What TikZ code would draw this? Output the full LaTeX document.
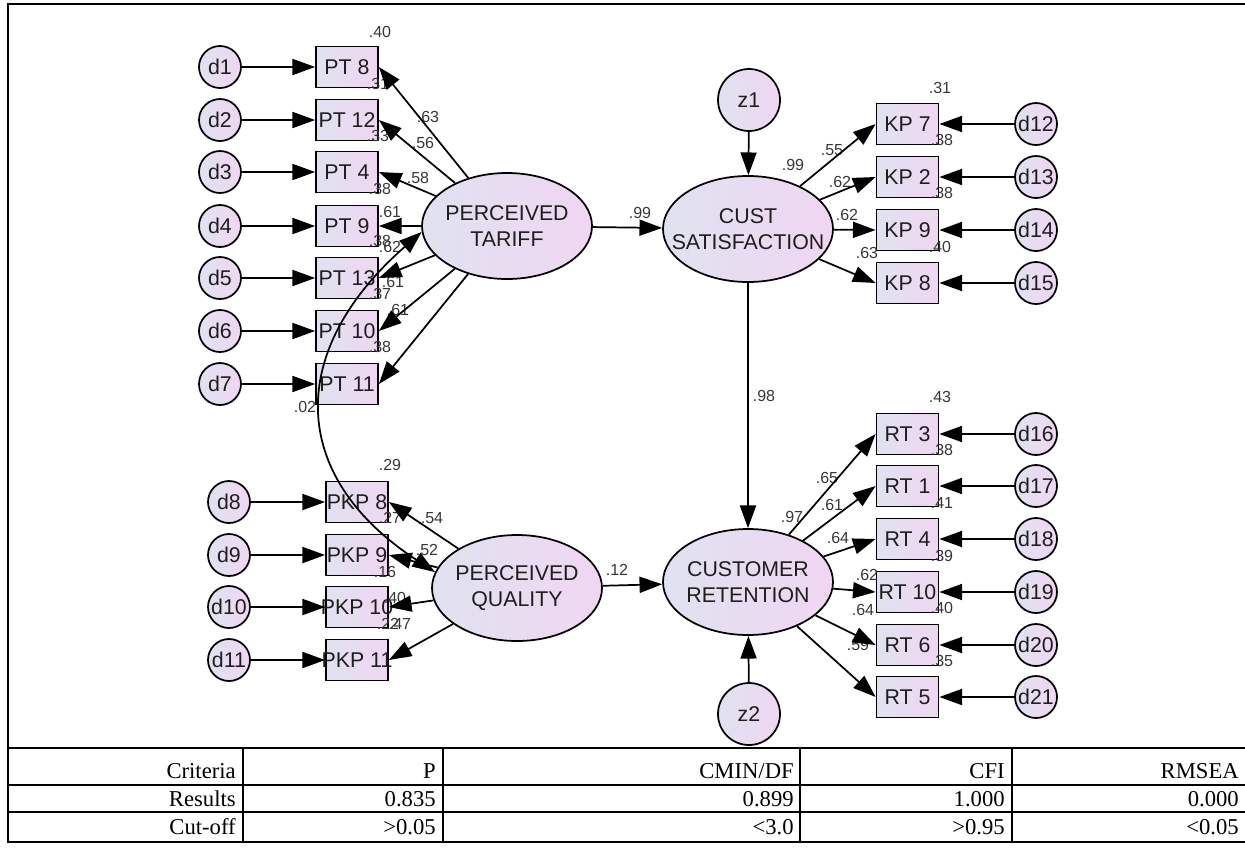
\documentclass[tikz,border=0pt]{standalone}
\usepackage{fontspec}
\setmainfont{Liberation Sans}
\newfontfamily\tabfont{Liberation Serif}
\usetikzlibrary{shapes.geometric,arrows.meta}
\definecolor{cL}{RGB}{224,226,240}
\definecolor{cR}{RGB}{240,214,242}
\definecolor{lblc}{RGB}{55,55,55}
\definecolor{txtc}{RGB}{30,30,30}
\newcommand\nfnt{\fontsize{16}{19}\selectfont}
\newcommand\lfnt{\fontsize{12}{13}\selectfont}
\newcommand\tfnt{\tabfont\fontsize{17}{19}\selectfont}
\begin{document}
\begin{tikzpicture}[x=0.75pt,y=-0.75pt,
  ln/.style={line width=1.3pt},
  arr/.style={line width=1.3pt,-{Triangle[length=17pt,width=12pt]}},
  obs/.style={draw,line width=1.3pt,minimum width=46.5pt,minimum height=30.75pt,inner sep=0pt,left color=cL,right color=cR},
  txt/.style={font=\nfnt,inner sep=0pt,text=txtc,align=center},
  err/.style={circle,draw,line width=1.3pt,minimum size=31.5pt,inner sep=0pt,left color=cL,right color=cR},
  dist/.style={circle,draw,line width=1.3pt,minimum size=46.5pt,inner sep=0pt,left color=cL,right color=cR},
  lat/.style={ellipse,draw,line width=1.3pt,minimum width=127.5pt,minimum height=79.5pt,inner sep=0pt,left color=cL,right color=cR},
  lbl/.style={font=\lfnt,inner sep=0pt,text=lblc},
  tcell/.style={font=\tfnt,inner sep=0pt,anchor=base east},
]
\useasboundingbox (0,0) rectangle (1245,847);
\fill[white] (0,0) rectangle (1245,847);

% latent variables
\node[lat] (PT) at (507,226) {};
\node[txt] at (PT) {PERCEIVED\\TARIFF};
\node[lat] (PQ) at (517,588) {};
\node[txt] at (PQ) {PERCEIVED\\QUALITY};
\node[lat] (CS) at (748,229) {};
\node[txt] at (CS) {CUST\\SATISFACTION};
\node[lat] (CR) at (748,582) {};
\node[txt] at (CR) {CUSTOMER\\RETENTION};
\node[dist] (z1) at (749,100) {};
\node[txt] at (z1) {z1};
\node[dist] (z2) at (749,714) {};
\node[txt] at (z2) {z2};

% PT indicators
\foreach \i/\n/\y in {1/8/67,2/12/120,3/4/172,4/9/226,5/13/278,6/10/331,7/11/384}{
  \node[err] (d\i) at (220,\y) {};
  \node[txt] at (d\i) {d\i};
  \node[obs] (pt\n) at (347,\y) {};
  \node[txt] at (pt\n) {PT \n};
}
% PKP indicators
\foreach \i/\n/\y in {8/8/502,9/9/555,10/10/607,11/11/660}{
  \node[err] (d\i) at (229,\y) {};
  \node[txt] at (d\i) {d\i};
  \node[obs] (pkp\n) at (357,\y) {};
  \node[txt] at (pkp\n) {PKP \n};
}
% KP indicators
\foreach \i/\n/\y in {12/7/124,13/2/177,14/9/230,15/8/283}{
  \node[err] (d\i) at (1036,\y) {};
  \node[txt] at (d\i) {d\i};
  \node[obs] (kp\n) at (907.5,\y) {};
  \node[txt] at (kp\n) {KP \n};
}
% RT indicators
\foreach \i/\n/\y in {16/3/434,17/1/486,18/4/539,19/10/592,20/6/645,21/5/697}{
  \node[err] (d\i) at (1036,\y) {};
  \node[txt] at (d\i) {d\i};
  \node[obs] (rt\n) at (907.5,\y) {};
  \node[txt] at (rt\n) {RT \n};
}

% labels (drawn before arrows)
\foreach \x/\y/\t [count=\k] in {380/32/.40,378/84/.31,378/136/.33,380/189/.38,380/241/.38,380/294/.37,380/347/.38,
  428/117/.63,423/143/.56,418/178/.58,390/212/.61,390/247/.62,393/282/.61,398/310/.61,305/407/.02}
  \node[lbl] (la\k) at (\x,\y) {\t};
\foreach \x/\y/\t [count=\k] in {390/465/.29,390/518/.27,385/572/.16,388/624/.22,
  432/518/.54,427/550/.52,395/598/.40,400/624/.47,617/570/.12,640/213/.99}
  \node[lbl] (lb\k) at (\x,\y) {\t};
\foreach \x/\y/\t [count=\k] in {793/165/.99,832/150/.55,840/182/.62,847/215/.62,867/253/.63,
  940/88/.31,942/140/.38,942/193/.38,940/247/.40,764/396/.98,792/517/.97}
  \node[lbl] (lc\k) at (\x,\y) {\t};
\foreach \x/\y/\t [count=\k] in {827/478/.65,832/505/.61,838/538/.64,867/575/.62,863/610/.64,858/645/.59,
  940/397/.43,942/450/.38,942/503/.41,942/556/.39,942/608/.40,942/661/.35}
  \node[lbl] (ld\k) at (\x,\y) {\t};

% error arrows
\foreach \i/\n in {1/8,2/12,3/4,4/9,5/13,6/10,7/11} \draw[arr] (d\i) -- (pt\n);
\foreach \i/\n in {8/8,9/9,10/10,11/11} \draw[arr] (d\i) -- (pkp\n);
\foreach \i/\n in {12/7,13/2,14/9,15/8} \draw[arr] (d\i) -- (kp\n);
\foreach \i/\n in {16/3,17/1,18/4,19/10,20/6,21/5} \draw[arr] (d\i) -- (rt\n);

% loadings
\foreach \n in {8,12,4,9,13,10,11} \draw[arr] (PT) -- (pt\n.east);
\foreach \n in {8,9,10,11} \draw[arr] (PQ) -- (pkp\n.east);
\foreach \n in {7,2,9,8} \draw[arr] (CS) -- (kp\n.west);
\foreach \n in {3,1,4,10,6,5} \draw[arr] (CR) -- (rt\n.west);

% structural paths
\draw[arr] (PT) -- (CS);
\draw[arr] (PQ) -- (CR);
\draw[arr] (CS) -- (CR);
\draw[arr] (z1) -- (CS);
\draw[arr] (z2) -- (CR);

% covariance
\draw[ln,{Triangle[length=17pt,width=12pt]}-{Triangle[length=17pt,width=12pt]}]
  (PT.184) .. controls (287,350) and (287,475) .. (PQ.169);

% frame and table
\draw[line width=1.5pt] (8,4) rectangle (1247,842);
\foreach \yy in {748,785,812} \draw[line width=1.3pt] (8,\yy) -- (1247,\yy);
\foreach \xx in {243,443,800,1012} \draw[line width=1.3pt] (\xx,748) -- (\xx,842);
\foreach \t/\a/\b/\c/\d/\yb in {Criteria/P/CMIN{/}DF/CFI/RMSEA/778, Results/0.835/0.899/1.000/0.000/806, Cut-off/{>}0.05/{<}3.0/{>}0.95/{<}0.05/834}{
  \node[tcell] at (236,\yb) {\t};
  \node[tcell] at (436,\yb) {\a};
  \node[tcell] at (794,\yb) {\b};
  \node[tcell] at (1005,\yb) {\c};
  \node[tcell] at (1239,\yb) {\d};
}
\end{tikzpicture}
\end{document}
